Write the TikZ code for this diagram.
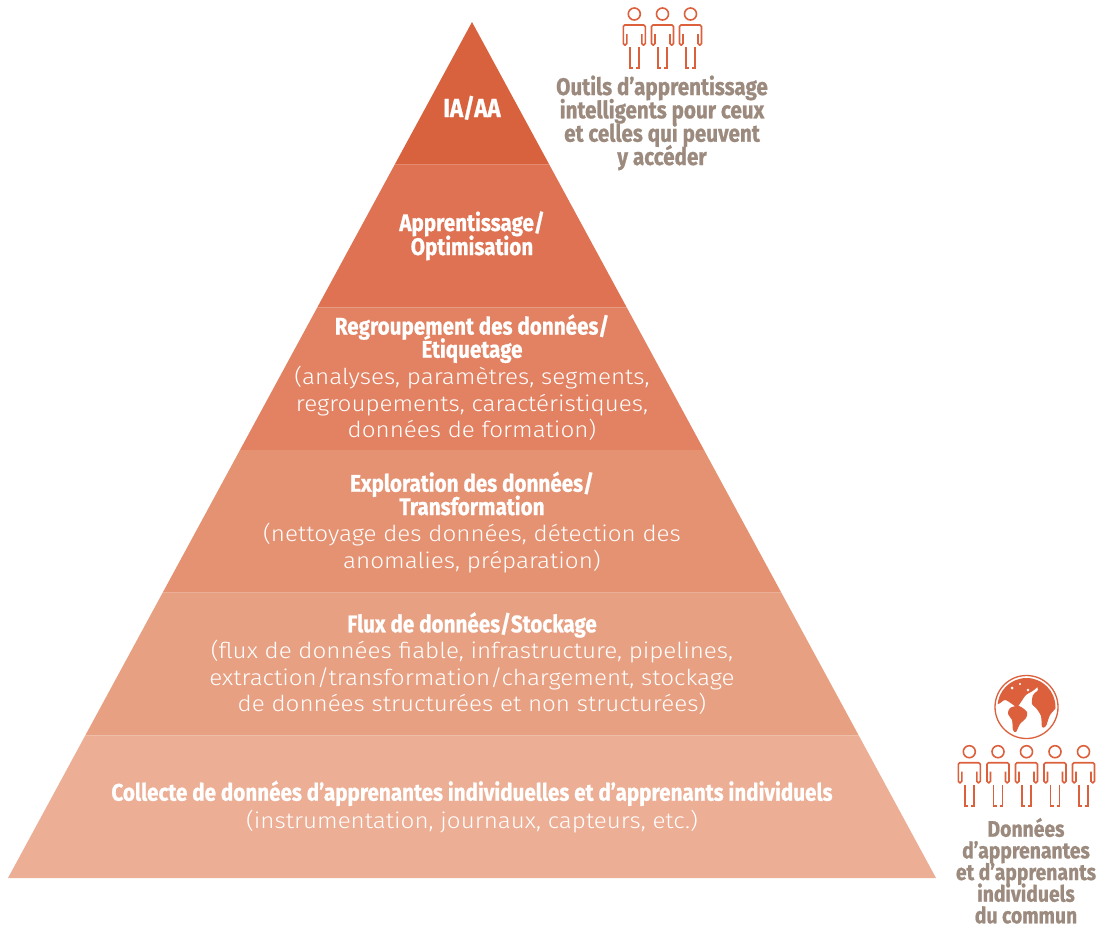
\documentclass[tikz,border=0pt]{standalone}
\usepackage{fontspec}
\newfontfamily\condf[FakeStretch=0.86, BoldFeatures={FakeBold=0.8}]{Fira Sans}
\newfontfamily\lightf[FakeStretch=1.1]{Fira Sans Light}
\definecolor{lay1}{RGB}{217,98,62}
\definecolor{lay2}{RGB}{222,114,82}
\definecolor{lay3}{RGB}{226,130,98}
\definecolor{lay4}{RGB}{229,146,114}
\definecolor{lay5}{RGB}{232,160,130}
\definecolor{lay6}{RGB}{236,174,148}
\definecolor{iconc}{RGB}{220,96,60}
\definecolor{graytxt}{RGB}{155,138,125}
\tikzset{
  hd/.style={font=\condf\bfseries\fontsize{24}{24}\selectfont, text=white, anchor=base, inner sep=0pt},
  bd/.style={font=\lightf\fontsize{22}{22}\selectfont, text=white, anchor=base, inner sep=0pt},
  gr/.style={font=\condf\bfseries\fontsize{24}{24}\selectfont, text=graytxt, anchor=base, inner sep=0pt},
  grs/.style={gr, font=\condf\bfseries\fontsize{22.5}{22.5}\selectfont},
  iconline/.style={draw=iconc, line width=1.6pt},
  person/.pic={
    \draw[iconline] (0,0) circle[radius=6];
    \draw[iconline, rounded corners=1.5pt] (-7.5,20) -- (-7.5,31) -- (-11,31) -- (-11,11) -- (11,11) -- (11,31) -- (7.5,31) -- (7.5,20);
    \draw[iconline] (-1.5,54) -- (-4.5,54) -- (-4.5,33);
    \draw[iconline] (1.5,54) -- (4.5,54) -- (4.5,33);
  }
}
\begin{document}
\begin{tikzpicture}[x=1pt,y=-1pt]
\useasboundingbox (0,0) rectangle (1111,932);
\fill[white] (0,0) rectangle (1111,932);
% pyramid layers
\fill[lay1] (472,22) -- (549.33,164.67) -- (394.67,164.67) -- cycle;
\fill[lay2] (394.67,164.67) -- (549.33,164.67) -- (626.67,307.33) -- (317.33,307.33) -- cycle;
\fill[lay3] (317.33,307.33) -- (626.67,307.33) -- (704,450) -- (240,450) -- cycle;
\fill[lay4] (240,450) -- (704,450) -- (781.33,592.67) -- (162.67,592.67) -- cycle;
\fill[lay5] (162.67,592.67) -- (781.33,592.67) -- (858.67,735.33) -- (85.33,735.33) -- cycle;
\fill[lay6] (85.33,735.33) -- (858.67,735.33) -- (936,878) -- (8,878) -- cycle;
% layer texts
\node[hd, font=\condf\bfseries\fontsize{26}{26}\selectfont] (l1) at (472,117) {IA/AA};
\node[hd] (l2a) at (472,231) {Apprentissage/};
\node[hd] (l2b) at (472,255) {Optimisation};
\node[hd] (l3a) at (472,334.5) {Regroupement des données/};
\node[hd] (l3b) at (472,357.7) {Étiquetage};
\node[bd] (l3c) at (472,384.3) {(analyses, paramètres, segments,};
\node[bd] (l3d) at (472,411) {regroupements, caractéristiques,};
\node[bd] (l3e) at (472,437.7) {données de formation)};
\node[hd] (l4a) at (472,491.7) {Exploration des données/};
\node[hd] (l4b) at (472,515) {Transformation};
\node[bd] (l4c) at (472,541.7) {(nettoyage des données, détection des};
\node[bd] (l4d) at (472,568.3) {anomalies, préparation)};
\node[hd] (l5a) at (472,632.3) {Flux de données/Stockage};
\node[bd] (l5b) at (472,658.3) {(flux de données fiable, infrastructure, pipelines,};
\node[bd] (l5c) at (472,685) {extraction/transformation/chargement, stockage};
\node[bd] (l5d) at (472,711.7) {de données structurées et non structurées)};
\node[hd] (l6a) at (472,800.7) {Collecte de données d’apprenantes individuelles et d’apprenants individuels};
\node[bd] (l6b) at (472,828.5) {(instrumentation, journaux, capteurs, etc.)};
% top right people and text
\pic at (634.3,14) {person};
\pic at (662.5,14) {person};
\pic at (690.5,14) {person};
\node[gr] (t1) at (662,95) {Outils d’apprentissage};
\node[gr] (t2) at (662,118.3) {intelligents pour ceux};
\node[gr] (t3) at (662,141.7) {et celles qui peuvent};
\node[gr] (t4) at (662,165) {y accéder};
% globe
\fill[white] (1026.5,707) circle[radius=31];
\begin{scope}
  \clip (1026.5,707) circle[radius=29];
  \fill[iconc] plot[smooth cycle] coordinates {(990,672) (1022,668) (1036,673) (1041,682) (1034,690) (1026,695) (1021,702) (1017,707) (1012,704) (1005,700) (998,704) (990,700)};
  \fill[iconc] plot[smooth cycle] coordinates {(1010,708) (1019,706) (1027,712) (1026,718) (1020,724) (1016,732) (1013,730) (1012,720) (1008,714)};
  \fill[iconc] plot[smooth cycle] coordinates {(1037,684) (1046,679) (1054,683) (1058,695) (1058,705) (1050,715) (1046,726) (1042,727) (1041,716) (1036,708) (1032,704) (1033,695) (1038,690)};
  \fill[white] (1012,688) circle[radius=1.5];
  \fill[white] (1020,684) circle[radius=1.2];
  \fill[white] (1028,690) circle[radius=1.4];
\end{scope}
\draw[iconline, line width=1.3pt] (1026.5,707) circle[radius=31.5];
% bottom right people and text
\pic at (969.3,751.7) {person};
\pic at (998,751.7) {person};
\pic at (1026.5,751.7) {person};
\pic at (1055,751.7) {person};
\pic at (1083.5,751.7) {person};
\node[grs] (b1) at (1026,836.7) {Données};
\node[grs] (b2) at (1026,858.3) {d’apprenantes};
\node[grs] (b3) at (1026,880) {et d’apprenants};
\node[grs] (b4) at (1026,901.7) {individuels};
\node[grs] (b5) at (1026,923.3) {du commun};
\end{tikzpicture}
\end{document}
